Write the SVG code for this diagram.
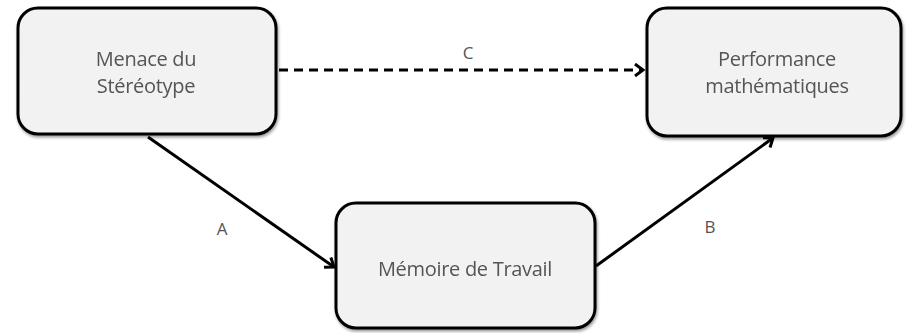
<svg xmlns="http://www.w3.org/2000/svg" width="907" height="333" viewBox="0 0 907 333">
<defs>
<marker id="arr" markerWidth="14" markerHeight="14" refX="11" refY="7" orient="auto" markerUnits="userSpaceOnUse">
<path d="M3,1 L11,7 L3,13" fill="none" stroke="#000" stroke-width="3"/>
</marker>
<filter id="sh" x="-10%" y="-10%" width="120%" height="130%">
<feGaussianBlur in="SourceAlpha" stdDeviation="1.5"/>
<feOffset dx="1" dy="2" result="b"/>
<feComponentTransfer><feFuncA type="linear" slope="0.4"/></feComponentTransfer>
<feMerge><feMergeNode/><feMergeNode in="SourceGraphic"/></feMerge>
</filter>
</defs>
<style>
.box{fill:#f2f2f2;stroke:#000;stroke-width:3}
.t{font-family:"Open Sans","Liberation Sans",sans-serif;font-size:20px;fill:#555;text-anchor:middle;letter-spacing:-0.3px}
.l{font-family:"Open Sans","Liberation Sans",sans-serif;font-size:17px;fill:#555;text-anchor:middle}
.c{stroke:#000;stroke-width:3;fill:none}
</style>
<rect width="907" height="333" fill="#fff"/>
<g id="connectors">
<line class="c" x1="279" y1="70" x2="643" y2="70" stroke-dasharray="9,6" marker-end="url(#arr)"/>
<line class="c" x1="148" y1="137" x2="334" y2="267" marker-end="url(#arr)"/>
<line class="c" x1="596" y1="266" x2="773" y2="138" marker-end="url(#arr)"/>
<text class="l" x="468" y="59">C</text>
<text class="l" x="222" y="235">A</text>
<text class="l" x="710" y="233">B</text>
</g>
<g id="menace" filter="url(#sh)">
<rect class="box" x="18" y="8" width="258" height="126" rx="20"/>
<text class="t" x="146" y="66">Menace du</text>
<text class="t" x="146" y="93">Stéréotype</text>
</g>
<g id="performance" filter="url(#sh)">
<rect class="box" x="647" y="8" width="254" height="128" rx="20"/>
<text class="t" x="777" y="66">Performance</text>
<text class="t" x="777" y="93">mathématiques</text>
</g>
<g id="memoire" filter="url(#sh)">
<rect class="box" x="336" y="203" width="259" height="125" rx="20"/>
<text class="t" x="465" y="276">Mémoire de Travail</text>
</g>
</svg>
